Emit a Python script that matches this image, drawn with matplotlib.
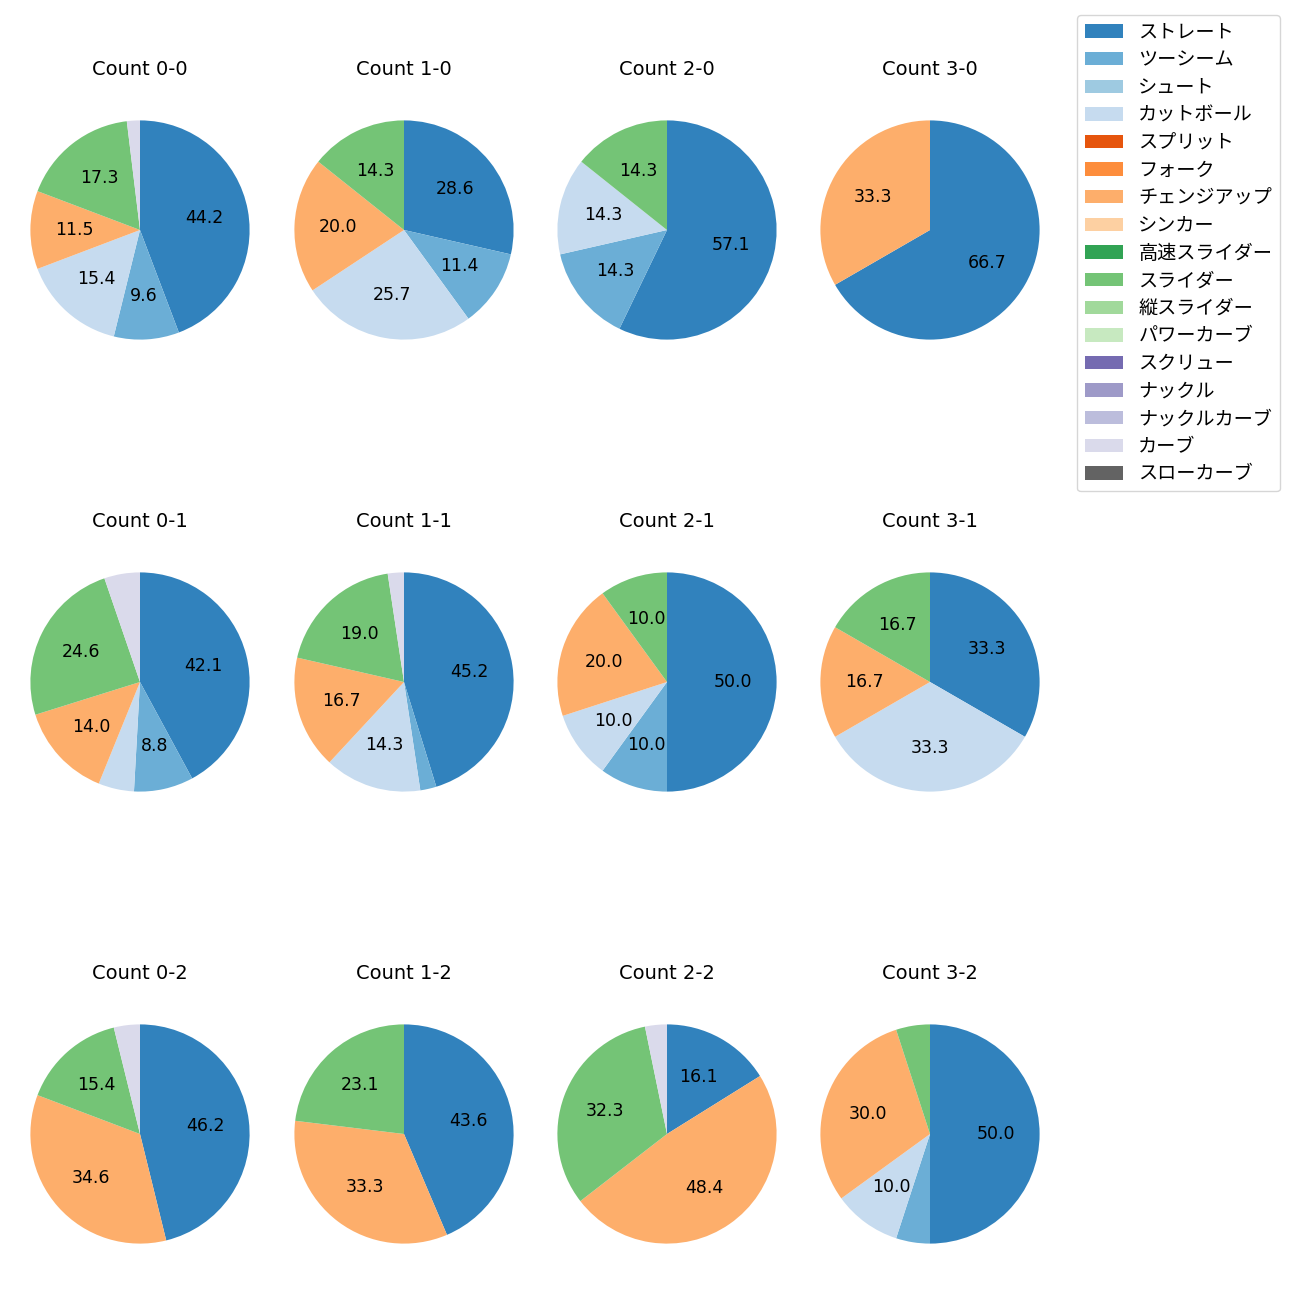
import matplotlib
matplotlib.use("Agg")
import matplotlib.pyplot as plt
from matplotlib.patches import Patch

plt.rcParams['font.family'] = ['DejaVu Sans', 'Noto Sans CJK JP']

pitch_types = ['ストレート', 'ツーシーム', 'シュート', 'カットボール', 'スプリット', 'フォーク',
               'チェンジアップ', 'シンカー', '高速スライダー', 'スライダー', '縦スライダー',
               'パワーカーブ', 'スクリュー', 'ナックル', 'ナックルカーブ', 'カーブ', 'スローカーブ']

counts = ['0-0', '1-0', '2-0', '3-0',
          '0-1', '1-1', '2-1', '3-1',
          '0-2', '1-2', '2-2', '3-2']

# pitch counts per ball-strike count
c_0_0 = {'ストレート': 23, 'ツーシーム': 5, 'カットボール': 8, 'チェンジアップ': 6, 'スライダー': 9, 'カーブ': 1}
c_1_0 = {'ストレート': 10, 'ツーシーム': 4, 'カットボール': 9, 'チェンジアップ': 7, 'スライダー': 5}
c_2_0 = {'ストレート': 4, 'ツーシーム': 1, 'カットボール': 1, 'スライダー': 1}
c_3_0 = {'ストレート': 2, 'チェンジアップ': 1}
c_0_1 = {'ストレート': 24, 'ツーシーム': 5, 'カットボール': 3, 'チェンジアップ': 8, 'スライダー': 14, 'カーブ': 3}
c_1_1 = {'ストレート': 19, 'ツーシーム': 1, 'カットボール': 6, 'チェンジアップ': 7, 'スライダー': 8, 'カーブ': 1}
c_2_1 = {'ストレート': 5, 'ツーシーム': 1, 'カットボール': 1, 'チェンジアップ': 2, 'スライダー': 1}
c_3_1 = {'ストレート': 2, 'カットボール': 2, 'チェンジアップ': 1, 'スライダー': 1}
c_0_2 = {'ストレート': 12, 'チェンジアップ': 9, 'スライダー': 4, 'カーブ': 1}
c_1_2 = {'ストレート': 17, 'チェンジアップ': 13, 'スライダー': 9}
c_2_2 = {'ストレート': 5, 'チェンジアップ': 15, 'スライダー': 10, 'カーブ': 1}
c_3_2 = {'ストレート': 10, 'ツーシーム': 1, 'カットボール': 2, 'チェンジアップ': 6, 'スライダー': 1}

data = [c_0_0, c_1_0, c_2_0, c_3_0, c_0_1, c_1_1, c_2_1, c_3_1, c_0_2, c_1_2, c_2_2, c_3_2]

cmap = plt.get_cmap('tab20c')
colors = {p: cmap(i) for i, p in enumerate(pitch_types)}

fig = plt.figure(figsize=(13, 13), dpi=100)
col_cx = [140, 404, 667, 930]
row_cy = [230, 682, 1134]
size = 274
for i, (cnt, d) in enumerate(zip(counts, data)):
    r, c = divmod(i, 4)
    cx, cy = col_cx[c], row_cy[r]
    ax = fig.add_axes([(cx - size / 2) / 1300, 1 - (cy + size / 2) / 1300, size / 1300, size / 1300])
    labels = [p for p in pitch_types if p in d]
    vals = [d[p] for p in labels]
    ax.pie(vals, colors=[colors[p] for p in labels], startangle=90, counterclock=False,
           autopct=lambda pct: f'{pct:.1f}' if pct > 7 else '',
           textprops={'fontsize': 12.5})
    ax.set_title(f'Count {cnt}', fontsize=14, pad=13)

handles = [Patch(facecolor=colors[p], label=p) for p in pitch_types]
fig.legend(handles=handles, loc='upper left', bbox_to_anchor=(1077 / 1300, 1 - 15 / 1300),
           borderaxespad=0, fontsize=13.8, labelspacing=0.45)
fig.savefig('out.png', dpi=100)
